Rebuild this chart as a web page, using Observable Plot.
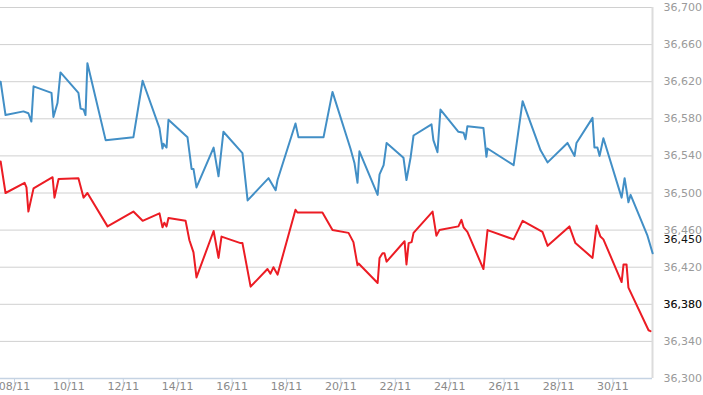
<!DOCTYPE html>
<html>
<head>
<meta charset="utf-8">
<script src="https://cdn.jsdelivr.net/npm/d3@7"></script>
<script src="https://cdn.jsdelivr.net/npm/@observablehq/plot@0.6"></script>
<style>
  html, body { margin: 0; padding: 0; background: #fff; }
  #chart svg { display: block; }
</style>
</head>
<body>
<div id="chart"></div>
<script>
// Day-of-November (fractional) positions and values
const blueDays = [7.49,7.67,8.33,8.51,8.62,8.70,9.36,9.43,9.58,9.69,10.35,10.43,10.54,10.61,10.68,11.35,12.37,12.71,13.33,13.44,13.48,13.59,13.66,14.36,14.51,14.58,14.69,15.32,15.50,15.68,16.38,16.57,17.34,17.60,17.67,18.33,18.44,19.36,19.69,20.35,20.50,20.61,20.68,21.35,21.42,21.57,21.68,22.30,22.41,22.56,22.67,23.33,23.40,23.55,23.66,24.32,24.51,24.58,24.65,25.24,25.35,25.39,26.35,26.68,27.34,27.60,28.33,28.59,28.66,29.25,29.32,29.43,29.51,29.65,30.32,30.43,30.57,30.65,31.27,31.46];
const blueValues = [36620,36584,36588,36586,36577,36615,36608,36582,36597,36630,36608,36591,36590,36584,36640,36557,36560,36621,36570,36548,36553,36549,36579,36560,36526,36526,36506,36549,36518,36566,36543,36492,36516,36503,36514,36575,36560,36560,36609,36548,36532,36511,36545,36498,36520,36530,36554,36538,36514,36538,36562,36574,36557,36544,36590,36566,36565,36558,36572,36570,36539,36548,36530,36599,36546,36533,36554,36540,36554,36581,36549,36549,36540,36559,36495,36516,36490,36498,36454,36435];

const redDays = [7.49,7.67,8.37,8.44,8.51,8.70,9.40,9.47,9.62,10.35,10.54,10.68,11.42,12.37,12.71,13.33,13.44,13.51,13.59,13.66,14.29,14.43,14.58,14.69,15.32,15.50,15.61,16.31,16.38,16.68,17.30,17.41,17.52,17.67,18.33,18.40,19.32,19.69,20.28,20.46,20.61,20.65,21.35,21.42,21.53,21.60,21.68,22.34,22.41,22.49,22.60,22.67,23.37,23.51,23.62,24.32,24.43,24.51,24.65,25.24,25.39,26.35,26.68,27.41,27.60,28.40,28.62,29.25,29.40,29.54,29.65,30.32,30.39,30.50,30.57,31.31,31.38];
const redValues = [36534,36500,36511,36506,36480,36505,36517,36495,36515,36516,36495,36500,36464,36480,36470,36478,36463,36468,36464,36473,36470,36449,36436,36409,36459,36430,36453,36446,36446,36399,36418,36413,36420,36412,36482,36479,36479,36460,36457,36447,36422,36424,36403,36430,36435,36435,36426,36448,36423,36446,36447,36457,36480,36454,36460,36464,36471,36463,36458,36418,36460,36450,36470,36458,36443,36464,36446,36430,36465,36453,36450,36404,36423,36423,36398,36352,36351];

const tickDays = [8,10,12,14,16,18,20,22,24,26,28,30];
const yTicks = [36300,36340,36380,36420,36460,36500,36540,36580,36620,36660,36700];
const markedValues = [36450, 36380];
const xDomainDays = [7.485, 31.455];

const toDate = d => new Date(Date.UTC(2016, 10, 1) + (d - 1) * 864e5);
const blue = blueDays.map((d, i) => ({date: toDate(d), value: blueValues[i]}));
const red = redDays.map((d, i) => ({date: toDate(d), value: redValues[i]}));
const xMin = toDate(xDomainDays[0]);
const xMax = toDate(xDomainDays[1]);
const font = "DejaVu Sans, Verdana, sans-serif";

const chart = Plot.plot({
  width: 703,
  height: 395,
  marginLeft: 0,
  marginRight: 51,
  marginTop: 7,
  marginBottom: 17,
  style: {fontFamily: font, fontSize: "11px", background: "#fff", overflow: "visible"},
  x: {type: "utc", domain: [xMin, xMax]},
  y: {domain: [36300, 36700]},
  marks: [
    Plot.gridY(yTicks, {stroke: "#d0d0d0", strokeOpacity: 1}),
    Plot.ruleY([36300], {stroke: "#c5d3e3", strokeWidth: 1.5}),
    Plot.ruleX([xMax], {stroke: "#dcdcdc", strokeWidth: 2}),
    Plot.axisY({anchor: "right", ticks: yTicks, tickSize: 0, tickPadding: 11, tickFormat: d3.format(","), fill: "#9a9a9a", fontSize: 11, label: null}),
    Plot.axisX(tickDays.map(toDate), {tickSize: 6, tickPadding: -2, tickFormat: d3.utcFormat("%d/%m"), stroke: "#c5d3e3", fill: "#8a8a8a", fontSize: 11, label: null}),
    Plot.line(blue, {x: "date", y: "value", stroke: "#428fc6", strokeWidth: 2}),
    Plot.line(red, {x: "date", y: "value", stroke: "#ec1c24", strokeWidth: 2}),
    Plot.text(markedValues, {x: () => xMax, y: d => d, text: d => d3.format(",")(d), dx: 11, textAnchor: "start", fill: "#111", fontSize: 11})
  ]
});
document.getElementById("chart").appendChild(chart);
</script>
</body>
</html>
